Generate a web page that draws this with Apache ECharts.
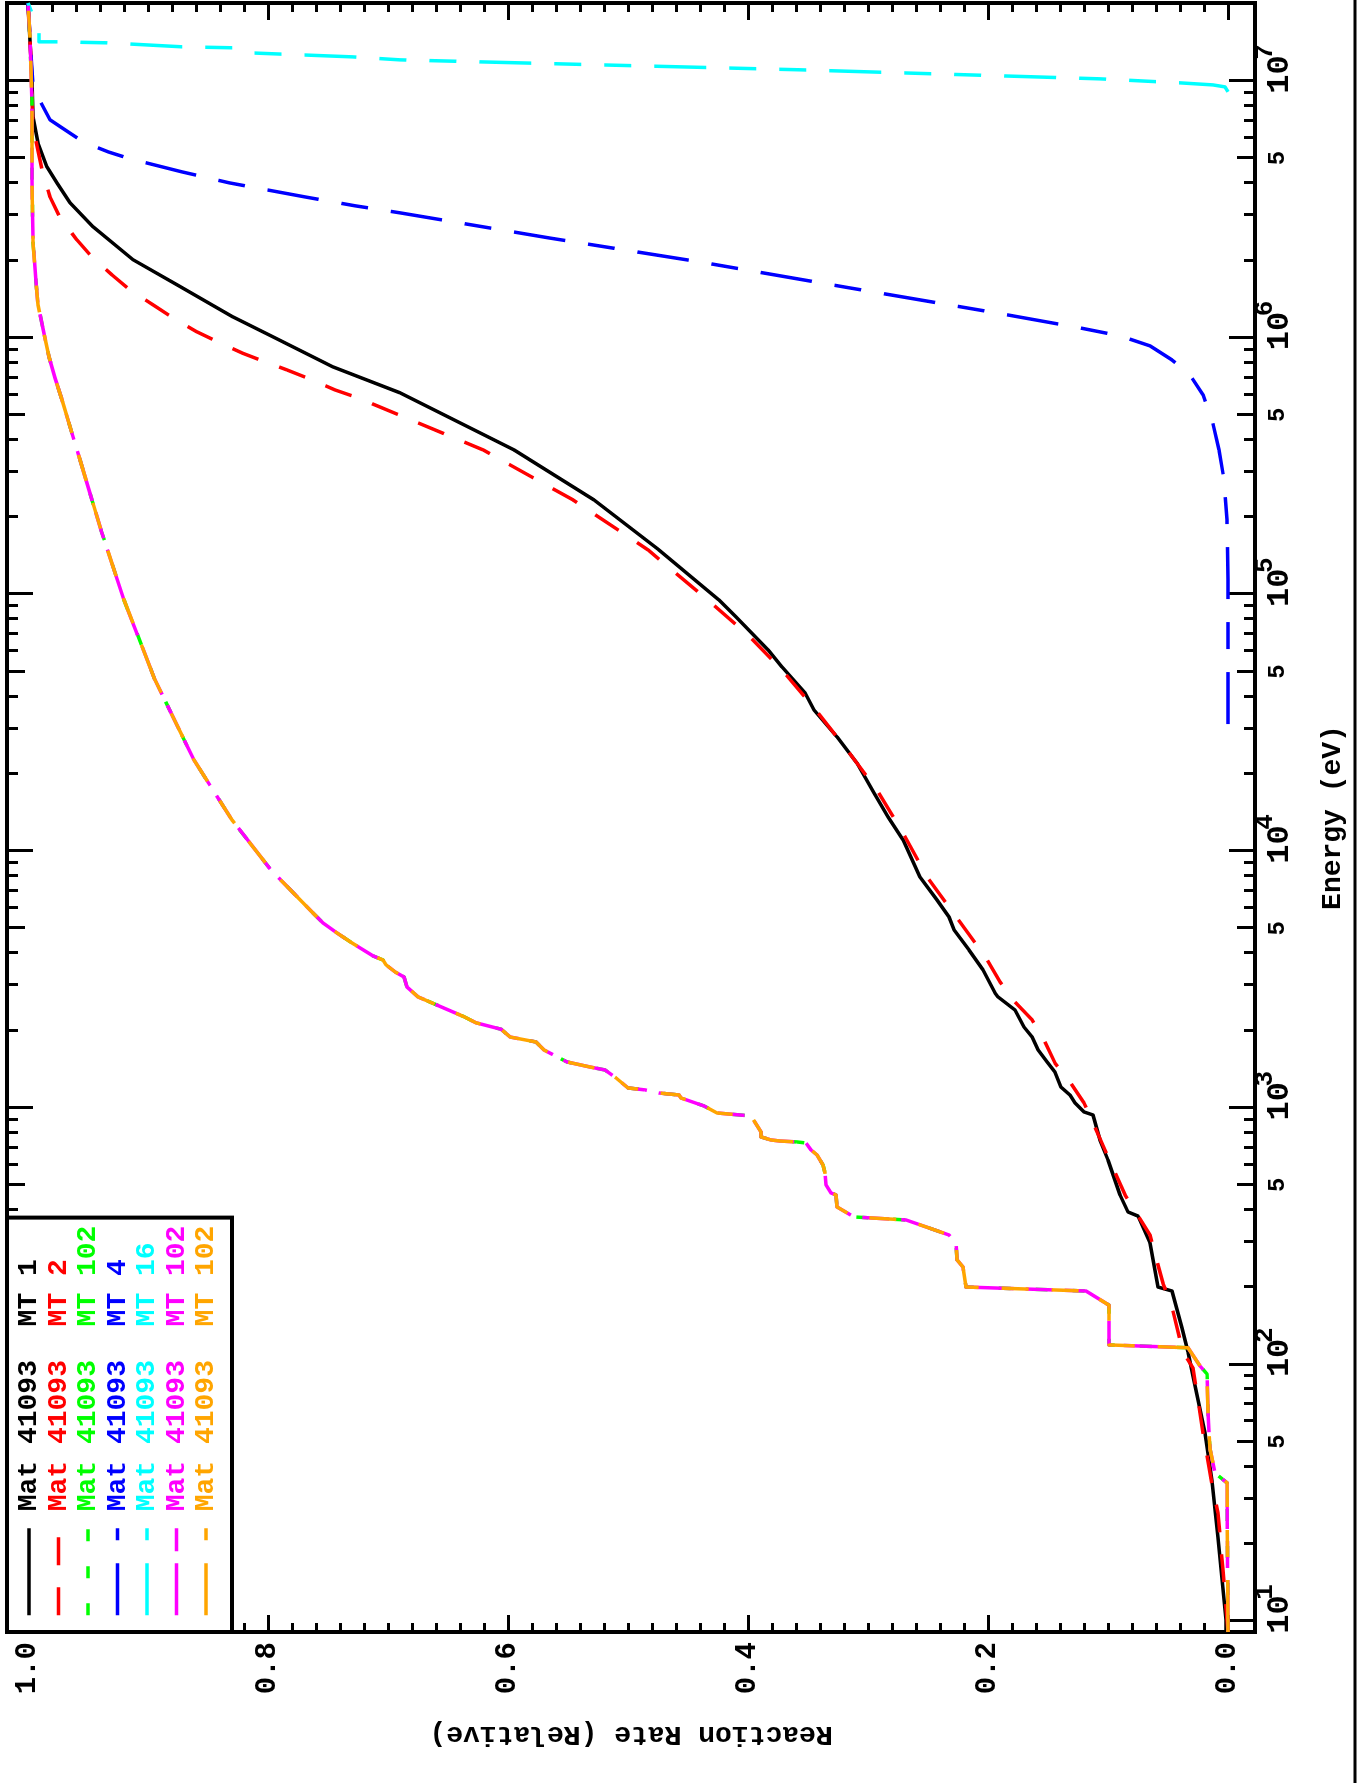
<!DOCTYPE html>
<html><head><meta charset="utf-8">
<script src="https://cdn.jsdelivr.net/npm/echarts@6/dist/echarts.min.js"></script>
<style>
html,body{margin:0;padding:0;width:1360px;height:1783px;overflow:hidden;background:#fff;}
#wrap{position:absolute;left:0;top:0;width:1783px;height:1360px;transform-origin:0 0;transform:translateY(1783px) rotate(-90deg);}
#chart{width:1783px;height:1360px;}
</style></head><body>
<div id="wrap"><div id="chart"></div></div>
<script>
// ---------- data (energy in eV, relative reaction rate) ----------
const mt1Energy = [9.06, 10.1, 21.1, 35.1, 54.0, 90.0, 111.7, 138.5, 193, 200, 297, 378, 392, 457, 625, 748, 797, 936, 962, 1043, 1120, 1203, 1377, 1506, 1677, 1884, 2060, 2400, 2700, 2800, 3440, 4110, 4920, 5530, 6440, 7920, 11040, 13570, 16820, 22000, 27800, 35400, 41300, 52100, 60700, 81600, 95000, 148800, 233000, 365000, 609000, 768000, 1006000, 1203000, 1604000, 2010000, 2700000, 3350000, 4000000, 4620000, 5730000, 7240000, 10090000, 12070000, 20100000];
const mt1Rate = [0.0017, 0.0017, 0.0083, 0.0133, 0.0192, 0.0292, 0.0333, 0.0383, 0.0467, 0.0583, 0.065, 0.075, 0.0833, 0.09, 0.1, 0.1067, 0.1083, 0.1125, 0.12, 0.1275, 0.1317, 0.1392, 0.1442, 0.1508, 0.1583, 0.1633, 0.17, 0.1775, 0.1917, 0.1942, 0.2042, 0.2158, 0.2283, 0.2325, 0.2425, 0.2567, 0.2708, 0.2833, 0.295, 0.3092, 0.3258, 0.345, 0.3525, 0.3717, 0.3833, 0.41, 0.4242, 0.4742, 0.5283, 0.595, 0.69, 0.7458, 0.7958, 0.8292, 0.8758, 0.9125, 0.9458, 0.965, 0.9758, 0.9842, 0.9917, 0.9958, 0.9967, 0.9975, 1.0];

const mt2Energy = [9.06, 10.1, 15.8, 26.3, 33.9, 54.0, 96.7, 111.7, 167, 207, 319, 457, 684, 1043, 1259, 1492, 1834, 2200, 2580, 3090, 3830, 5480, 7920, 11750, 17280, 25400, 36100, 50700, 69400, 93300, 148800, 233000, 365000, 582000, 625000, 684000, 748000, 804000, 871000, 962000, 1052000, 1193000, 1341000, 1533000, 1754000, 2060000, 2400000, 2930000, 3530000, 4500000, 6620000, 8430000, 12070000, 20100000];
const mt2Rate = [0, 0.0008, 0.0042, 0.0083, 0.0133, 0.0208, 0.0292, 0.0375, 0.0467, 0.0542, 0.065, 0.0858, 0.1025, 0.12, 0.1317, 0.1442, 0.1533, 0.1633, 0.1775, 0.19, 0.2017, 0.2258, 0.2508, 0.2708, 0.2925, 0.3192, 0.345, 0.3717, 0.4, 0.4317, 0.4833, 0.5458, 0.6208, 0.725, 0.7442, 0.7633, 0.7842, 0.8025, 0.8217, 0.8417, 0.8592, 0.8792, 0.8958, 0.915, 0.93, 0.9467, 0.9592, 0.9733, 0.9817, 0.9883, 0.9958, 0.9967, 0.9975, 1.0];

const mt4Energy = [31200, 114000, 195000, 279000, 365000, 478000, 598000, 715000, 818000, 928000, 1015000, 1090000, 1240000, 1560000, 1970000, 2440000, 3060000, 3260000, 3530000, 4000000, 4420000, 4970000, 5290000, 5790000, 6560000, 7050000, 9390000, 12600000, 20100000];
const mt4Rate = [0, 0, 0.0008, 0.0033, 0.0075, 0.0133, 0.0208, 0.0317, 0.0467, 0.065, 0.09, 0.1233, 0.19, 0.315, 0.44, 0.565, 0.69, 0.7275, 0.7692, 0.8317, 0.8717, 0.915, 0.9333, 0.9542, 0.9717, 0.9817, 0.9958, 0.9975, 1.0];

const mt16Energy = [9060000, 9470000, 9640000, 9820000, 10180000, 10460000, 11040000, 11540000, 12070000, 12400000, 12850000, 13450000, 13570000, 14060000, 14190000, 14190000, 15510000, 20100000];
const mt16Rate = [0, 0.0025, 0.0125, 0.04, 0.1067, 0.19, 0.3567, 0.5233, 0.69, 0.73, 0.815, 0.8292, 0.8717, 0.9333, 0.975, 0.9908, 0.9908, 1.0];

const mt102Energy = [9.06, 34.5, 37.7, 46.8, 65.2, 91.7, 98.5, 116, 119, 170, 193, 200, 239, 255, 297, 319, 343, 365, 375, 410, 457, 465, 500, 556, 598, 654, 684, 728, 735, 741, 748, 769, 804, 928, 953, 1015, 1090, 1120, 1140, 1172, 1193, 1305, 1402, 1440, 1506, 1677, 1802, 1884, 2020, 2140, 2260, 2340, 2470, 2700, 2950, 3230, 3380, 3600, 3760, 3900, 4380, 4790, 5240, 5730, 8430, 13200, 22600, 46400, 95000, 178000, 334000, 572000, 696000, 841000, 1341000, 1647000, 2340000, 4110000, 8430000, 14450000, 20100000];
const mt102Rate = [0, 0.0008, 0.0108, 0.015, 0.0167, 0.0175, 0.0233, 0.0333, 0.0992, 0.0992, 0.1183, 0.2183, 0.2208, 0.2258, 0.2267, 0.2325, 0.2517, 0.2683, 0.3117, 0.3258, 0.3267, 0.3308, 0.335, 0.3358, 0.3375, 0.3425, 0.3475, 0.3517, 0.3592, 0.3733, 0.3808, 0.3892, 0.3892, 0.3975, 0.4258, 0.4367, 0.4558, 0.4575, 0.4742, 0.4858, 0.5, 0.51, 0.5192, 0.5317, 0.5508, 0.57, 0.5767, 0.5983, 0.6058, 0.6267, 0.6367, 0.6442, 0.6558, 0.675, 0.6842, 0.6867, 0.6942, 0.7017, 0.7042, 0.7125, 0.73, 0.7425, 0.7542, 0.7625, 0.7975, 0.83, 0.8617, 0.8942, 0.92, 0.9392, 0.9567, 0.9717, 0.9775, 0.9825, 0.9917, 0.9933, 0.9958, 0.9967, 0.9967, 0.9983, 1.0];

const legendLabels = ['Mat 41093  MT 1', 'Mat 41093  MT 2', 'Mat 41093  MT 102', 'Mat 41093  MT 4', 'Mat 41093  MT 16', 'Mat 41093  MT 102', 'Mat 41093  MT 102'];
const seriesColors = ['#000000', '#ff0000', '#00ff00', '#0000ff', '#00ffff', '#ff00ff', '#ffa500'];

// axis ticks / labels
const energyMin = 9.06, energyMax = 2.01e7;
const rateMin = -0.0225, rateMax = 1.0175;
const decadeTicks = [10, 100, 1000, 10000, 100000, 1000000, 10000000];
const fiveTicks = [50, 500, 5000, 50000, 500000, 5000000];
const minorMantissas = [2, 3, 4, 6, 7, 8, 9];
const rateMajorTicks = [0, 0.2, 0.4, 0.6, 0.8, 1.0];

// ---------- build ----------
const FONT = '"Liberation Mono", "DejaVu Sans Mono", monospace';
const minorEnergyTicks = [];
decadeTicks.slice(0, 6).forEach(d => minorMantissas.forEach(m => minorEnergyTicks.push(m * d)));
const rateMinorTicks = [];
for (let k = 1; k < 50; k++) { if (k % 10 !== 0) rateMinorTicks.push(Math.round(k * 2) / 100); }

const curves = [
  [mt1Energy, mt1Rate], [mt2Energy, mt2Rate], [mt102Energy, mt102Rate],
  [mt4Energy, mt4Rate], [mt16Energy, mt16Rate], [mt102Energy, mt102Rate], [mt102Energy, mt102Rate]
];
const dashes = ['solid', [28, 22], [12, 25], [52, 23, 27, 23], [52, 23, 27, 23, 27, 23],
  [52, 12, 27, 12], [52, 23, 27, 23, 27, 23, 27, 23, 27, 23]];
const dashOffsets = [0, 0, 0, 0, 0, 0, 0];
const seriesNames = legendLabels.map((l, i) => l + ' (' + i + ')');

const tickStyle = { color: '#000', width: 3 };
function eAxis(pos, vals, len, label, extra) {
  return Object.assign({
    type: 'log', logBase: 10, position: pos, min: energyMin, max: energyMax, gridIndex: 0,
    axisLine: { show: false, onZero: false },
    axisTick: { show: true, inside: true, length: len, customValues: vals, lineStyle: tickStyle },
    axisLabel: label || { show: false },
    splitLine: { show: false }, minorTick: { show: false }, minorSplitLine: { show: false }
  }, extra || {});
}
function rAxis(pos, vals, len, label, extra) {
  return Object.assign({
    type: 'value', position: pos, min: rateMin, max: rateMax, gridIndex: 0,
    axisLine: { show: false, onZero: false },
    axisTick: { show: true, inside: true, length: len, customValues: vals, lineStyle: tickStyle },
    axisLabel: label || { show: false },
    splitLine: { show: false }, minorTick: { show: false }, minorSplitLine: { show: false }
  }, extra || {});
}

const boldTxt = { fontFamily: FONT, fontWeight: 'bold', color: '#000' };

const option = {
  animation: false,
  backgroundColor: '#fff',
  grid: { left: 151, right: 3, top: 7, bottom: 105, show: true, borderColor: '#000', borderWidth: 4,
          backgroundColor: 'rgba(0,0,0,0)', containLabel: false, outerBoundsMode: 'none' },
  legend: {
    orient: 'vertical', left: 151, top: 7,
    padding: [8, 8, 12, 15],
    itemWidth: 87, itemHeight: 28, itemGap: 1.5,
    backgroundColor: '#fff', borderColor: '#000', borderWidth: 4,
    selectedMode: false,
    lineStyle: { width: 3.5 },
    itemStyle: { color: 'rgba(0,0,0,0)', borderWidth: 0, opacity: 0 },
    textStyle: Object.assign({}, boldTxt, { fontSize: 28, rich: { sp: { width: 12 } } }),
    formatter: n => '{sp| }' + n.replace(/ \(\d\)$/, ''),
    data: seriesNames.map((n, i) => ({ name: n, textStyle: { color: seriesColors[i] } }))
  },
  xAxis: [
    eAxis('bottom', decadeTicks, 26, {
      show: true, customValues: decadeTicks, margin: 9, padding: [0, 0, 0, 24],
      formatter: v => '{b|10}{s|' + Math.round(Math.log10(v)) + '}',
      rich: {
        b: Object.assign({}, boldTxt, { fontSize: 32, lineHeight: 32, width: 34, align: 'left', verticalAlign: 'bottom' }),
        s: Object.assign({}, boldTxt, { fontSize: 26, lineHeight: 26, verticalAlign: 'bottom', padding: [0, 0, 18, 0] })
      }
    }, {
      name: 'Energy (eV)', nameLocation: 'middle', nameGap: 64,
      nameTextStyle: Object.assign({}, boldTxt, { fontSize: 28 })
    }),
    eAxis('bottom', fiveTicks, 18, Object.assign({ show: true, customValues: fiveTicks, margin: 11, formatter: () => '5' }, boldTxt, { fontSize: 24 })),
    eAxis('bottom', minorEnergyTicks, 11),
    eAxis('top', decadeTicks, 26),
    eAxis('top', fiveTicks, 18),
    eAxis('top', minorEnergyTicks, 11)
  ],
  yAxis: [
    rAxis('left', rateMajorTicks, 17, Object.assign({ show: true, customValues: rateMajorTicks, margin: 10, formatter: v => v.toFixed(1) }, boldTxt, { fontSize: 29 }), {
      name: 'Reaction Rate (Relative)', nameLocation: 'middle', nameGap: 88, nameRotate: 90,
      nameTextStyle: Object.assign({}, boldTxt, { fontSize: 28 })
    }),
    rAxis('left', rateMinorTicks, 9),
    rAxis('right', rateMajorTicks, 17),
    rAxis('right', rateMinorTicks, 9)
  ],
  graphic: [{
    type: 'line', silent: true,
    shape: { x1: 0, y1: 1355, x2: 1783, y2: 1355 },
    style: { stroke: '#000', lineWidth: 3 }
  }],
  series: curves.map((c, i) => ({
    type: 'line', name: seriesNames[i], xAxisIndex: 0, yAxisIndex: 0,
    data: c[0].map((e, j) => [e, c[1][j]]),
    symbol: 'none', showSymbol: false, silent: true, clip: true, z: 2 + i,
    lineStyle: { color: seriesColors[i], width: 3.5, type: dashes[i], dashOffset: dashOffsets[i], cap: 'butt', join: 'round' },
    itemStyle: { color: seriesColors[i] }
  }))
};

const chart = echarts.init(document.getElementById('chart'), null, { renderer: 'canvas', width: 1783, height: 1360 });
chart.setOption(option);
</script></body></html>
